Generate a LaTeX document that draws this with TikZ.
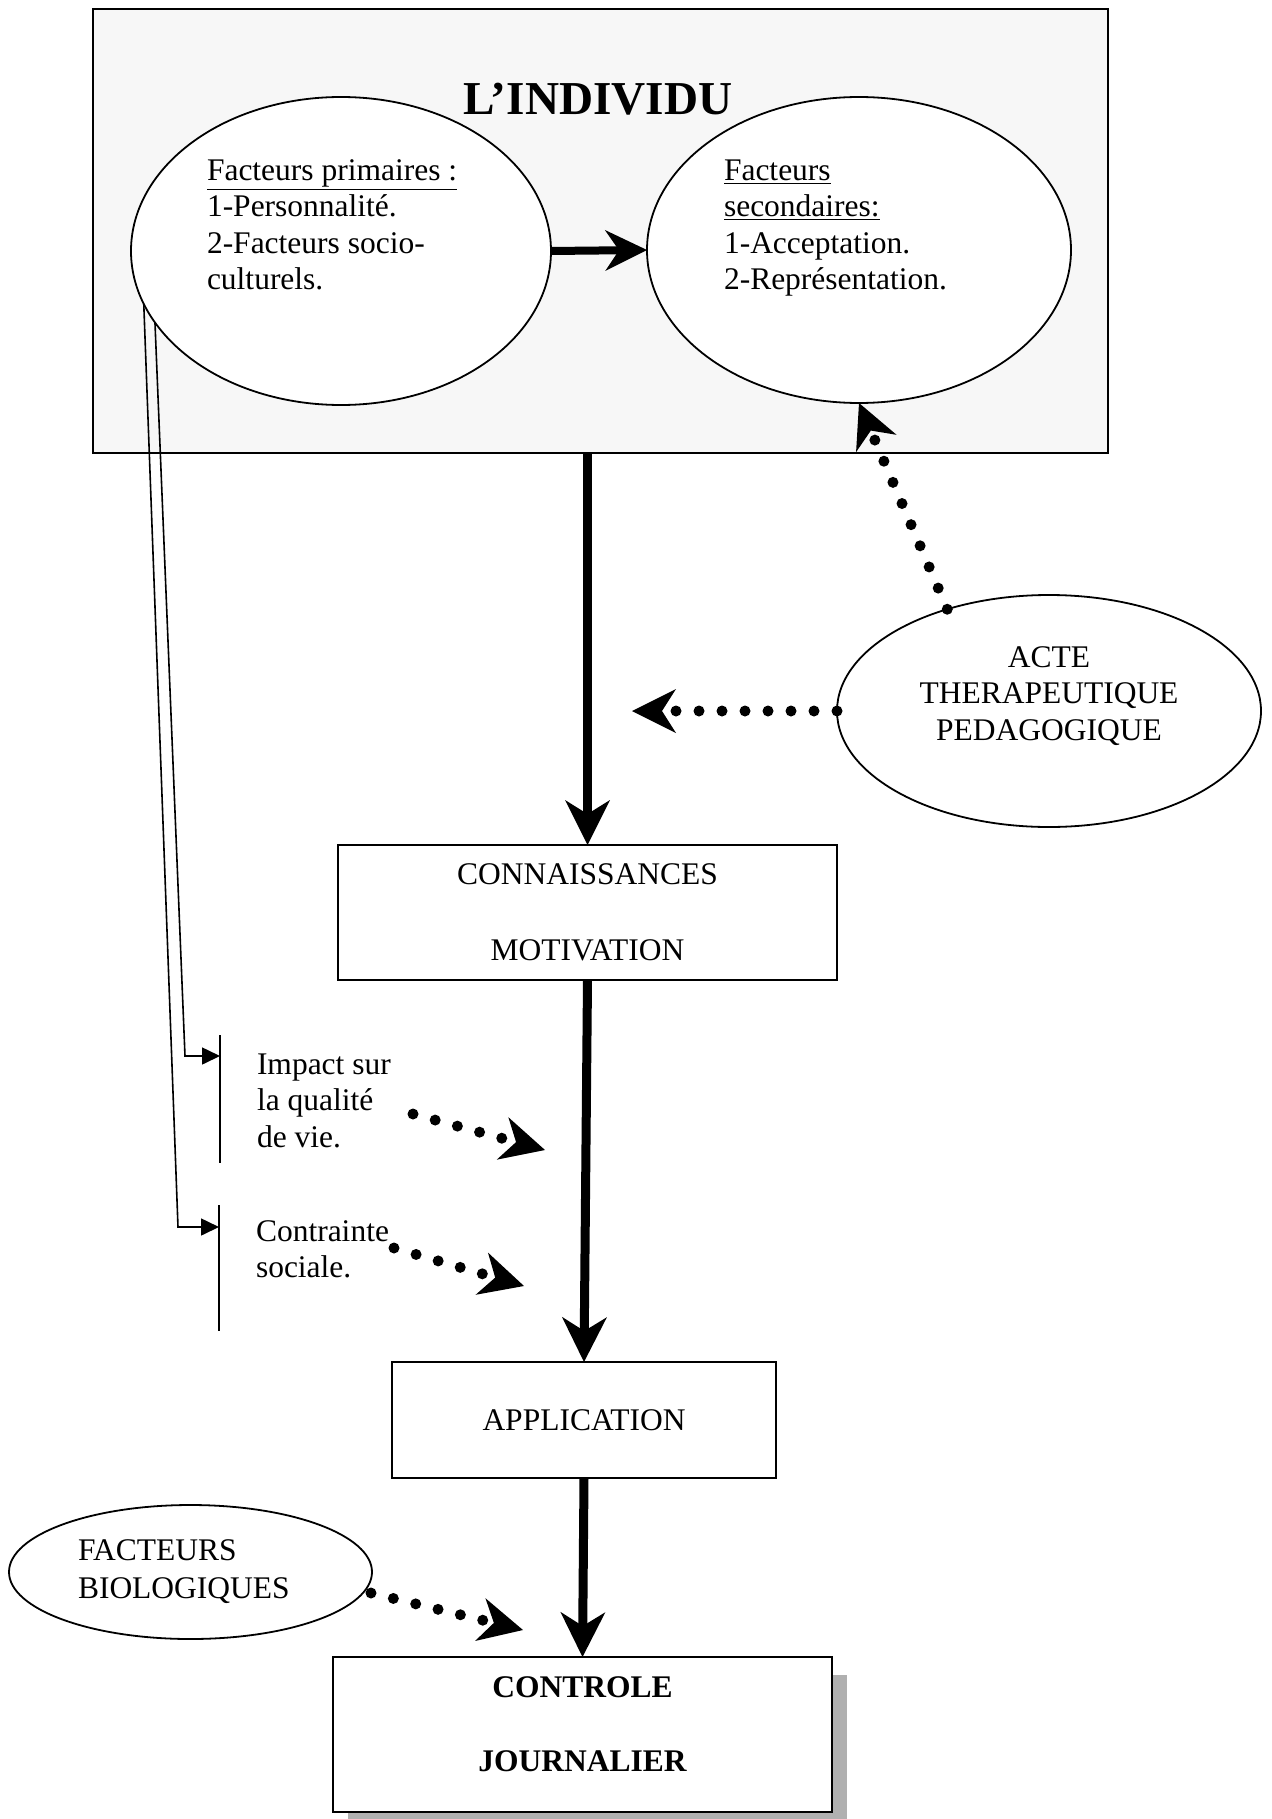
\documentclass[tikz,border=0pt]{standalone}
\usepackage{fontspec}
\setmainfont{Liberation Serif}
\usetikzlibrary{arrows.meta,shapes.geometric}
\begin{document}
\begin{tikzpicture}[x=0.5pt,y=-0.5pt,
  every node/.style={inner sep=0pt, outer sep=0pt},
  txt/.style={font=\fontsize{15.75}{18.3}\selectfont, align=left, anchor=north west},
  ctxt/.style={font=\fontsize{15.75}{18.3}\selectfont, align=center},
  oval/.style={draw, line width=0.9pt, fill=white, ellipse},
  rectbox/.style={draw, line width=0.9pt, fill=white, rectangle},
  thickarrow/.style={line width=4.5pt, -{Stealth[length=22.5pt,width=22.5pt,inset=7pt,line width=0pt]}},
  dotarrow/.style={line width=5.5pt, line cap=round, dash pattern=on 0pt off 11.5pt,
     -{Stealth[length=22pt,width=22pt,inset=7pt,line width=0pt]}},
  thinline/.style={line width=0.8pt},
  smallhead/.style={-{Triangle[length=9pt,width=8.5pt]}}
]
\useasboundingbox (0,0) rectangle (1271,1819);

% outer box
\node[draw, line width=1pt, fill=black!3, minimum width=507.5pt, minimum height=222pt] (indiv) at (600.5,231) {};
\node[font=\bfseries\fontsize{23.6}{28}\selectfont, anchor=base] (title) at (598,115) {L’INDIVIDU};

% ellipses
\node[oval, minimum width=210pt, minimum height=154pt] (prim) at (341,251) {};
\node[oval, minimum width=212pt, minimum height=153pt] (sec) at (859,250) {};
\node[oval, minimum width=212pt, minimum height=116pt] (acte) at (1049,711) {};
\node[oval, minimum width=181.5pt, minimum height=67pt] (bio) at (190.5,1572) {};

\node[txt] (primtxt) at (207,154.4) {\strut\underline{Facteurs primaires :}\\1-Personnalité.\\2-Facteurs socio-\\culturels.};
\node[txt] (sectxt) at (724,154.4) {\strut\underline{Facteurs}\\\underline{secondaires:}\\1-Acceptation.\\2-Représentation.};
\node[ctxt, anchor=north] (actetxt) at (1049,641.4) {\strut ACTE\\THERAPEUTIQUE\\PEDAGOGIQUE};
\node[txt] (biotxt) at (78,1534.4) {\strut FACTEURS\\[0.7pt]BIOLOGIQUES};

% boxes
\node[rectbox, ctxt, minimum width=249.5pt, minimum height=67.5pt] (conn) at (587.5,912.5) {CONNAISSANCES\\[19.7pt]MOTIVATION};
\node[rectbox, ctxt, minimum width=192pt, minimum height=58pt] (app) at (584,1420) {APPLICATION};
\fill[gray!62] (348,1675) rectangle (847,1830);
\node[rectbox, minimum width=249.5pt, minimum height=77.5pt] (ctl) at (582.5,1734.5) {};
\node[ctxt, font=\bfseries\fontsize{15.75}{18.3}\selectfont] (ctltxt) at (582.5,1724.5) {CONTROLE\\[18.7pt]JOURNALIER};

% side texts and bars
\node[txt] (imp) at (257,1048.4) {\strut Impact sur\\la qualité\\de vie.};
\node[txt] (con) at (256,1215.4) {\strut Contrainte\\sociale.};
\coordinate (bar1t) at (220,1035); \coordinate (bar1b) at (220,1163);
\coordinate (bar2t) at (219,1205); \coordinate (bar2b) at (219,1331);
\draw[thinline] (bar1t) -- (bar1b);
\draw[thinline] (bar2t) -- (bar2b);

% thin connectors from primary factors
\coordinate (k1) at (185,1056); \coordinate (b1) at (220,1056);
\coordinate (k2) at (178,1227); \coordinate (b2) at (219,1227);
\draw[thinline, smallhead] (prim.201) -- (k1) -- (b1);
\draw[thinline, smallhead] (prim.195) -- (k2) -- (b2);

% thick arrows
\draw[line width=4pt, -{Stealth[length=21pt,width=20.5pt,inset=7pt,line width=0pt]}] (prim.east) -- (sec.west);
\draw[thickarrow] (conn.north |- indiv.south) -- (conn.north);
\draw[thickarrow] (conn.south) -- (app.north);
\draw[thickarrow] (app.south) -- (ctl.north);

% dotted arrows
\coordinate (t1) at (632,711);
\coordinate (s1) at (413,1114); \coordinate (t2) at (545,1150);
\coordinate (s2) at (394,1248); \coordinate (t3) at (524,1286);
\coordinate (s3) at (371,1593); \coordinate (t4) at (523,1630);
\draw[dotarrow] (acte.135) -- (sec.south);
\draw[dotarrow] (acte.west) -- (t1);
\draw[dotarrow] (s1) -- (t2);
\draw[dotarrow] (s2) -- (t3);
\draw[dotarrow] (s3) -- (t4);
\end{tikzpicture}
\end{document}
